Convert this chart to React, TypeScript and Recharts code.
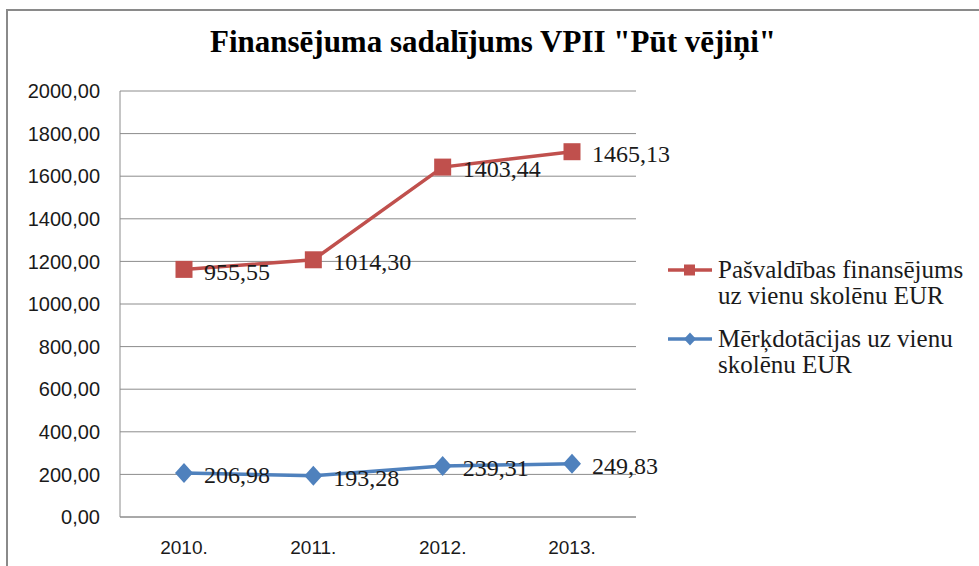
import React from "react";
import { AreaChart, Area, XAxis, YAxis, CartesianGrid } from "recharts";

const years = ["2010.", "2011.", "2012.", "2013."];
const merkdotacijas = [206.98, 193.28, 239.31, 249.83];
const pasvaldibas = [955.55, 1014.3, 1403.44, 1465.13];
const yTicks = [0, 200, 400, 600, 800, 1000, 1200, 1400, 1600, 1800, 2000];

const RED = "#C0504D";
const BLUE = "#4F81BD";
const SERIF = "'Liberation Serif', 'DejaVu Serif', 'Times New Roman', serif";
const SANS = "'Liberation Sans', Arial, sans-serif";

const data = years.map((year, i) => ({
    year,
    mer: merkdotacijas[i],
    pas: pasvaldibas[i],
}));

const fmt = (v: number) => v.toFixed(2).replace(".", ",");

const SquareDot = (props: any) => {
    const { cx, cy, index } = props;
    return (
        <rect
            key={`sq-${index}`}
            x={cx - 8.5}
            y={cy - 8.5}
            width={17}
            height={17}
            fill={RED}
        />
    );
};

const DiamondDot = (props: any) => {
    const { cx, cy, index } = props;
    return (
        <polygon
            key={`dm-${index}`}
            points={`${cx},${cy - 10} ${cx + 9},${cy} ${cx},${cy + 10} ${cx - 9},${cy}`}
            fill={BLUE}
        />
    );
};

const makeLabel = (values: number[]) => (props: any) => {
    const { x, y, index } = props;
    return (
        <text
            key={`lb-${index}`}
            x={x + 20}
            y={y + 2}
            dy="0.35em"
            style={{ fontFamily: SERIF }}
            fontSize={24}
            fill="#1a1a1a"
        >
            {fmt(values[index])}
        </text>
    );
};

export default function App() {
    return (
        <div
            style={{
                position: "absolute",
                left: 0,
                top: 0,
                width: 979,
                height: 566,
                background: "#fff",
                overflow: "hidden",
            }}
        >
            <div
                style={{
                    position: "absolute",
                    left: 6,
                    top: 9,
                    width: 973,
                    height: 557,
                    borderLeft: "2px solid #8a8a8a",
                    borderTop: "2px solid #8a8a8a",
                }}
            />
            <div
                style={{
                    position: "absolute",
                    left: 0,
                    top: 24,
                    width: 986,
                    textAlign: "center",
                    fontFamily: SERIF,
                    fontWeight: "bold",
                    fontSize: 31,
                    color: "#000",
                }}
            >
                Finansējuma sadalījums VPII "Pūt vējiņi"
            </div>

            <AreaChart
                width={979}
                height={566}
                data={data}
                margin={{ top: 91, right: 343, bottom: 19, left: 20 }}
                style={{ position: "absolute", left: 0, top: 0 }}
            >
                <CartesianGrid
                    vertical={false}
                    stroke="#8c8c8c"
                    strokeWidth={1}
                />
                <XAxis
                    dataKey="year"
                    height={30}
                    padding={{ left: 64, right: 64 }}
                    axisLine={{ stroke: "#8c8c8c" }}
                    tickLine={false}
                    tickSize={0}
                    tickMargin={24}
                    tick={{
                        fill: "#1a1a1a",
                        fontSize: 19,
                        fontFamily: SANS,
                    }}
                />
                <YAxis
                    width={100}
                    domain={[0, 2000]}
                    ticks={yTicks}
                    interval={0}
                    tickFormatter={fmt}
                    axisLine={{ stroke: "#8c8c8c" }}
                    tickLine={false}
                    tickSize={0}
                    tickMargin={20}
                    tick={{
                        fill: "#1a1a1a",
                        fontSize: 20,
                        fontFamily: SANS,
                    }}
                />
                <Area
                    type="linear"
                    dataKey="mer"
                    stackId="1"
                    stroke={BLUE}
                    strokeWidth={3.5}
                    fill="none"
                    dot={DiamondDot}
                    activeDot={false}
                    label={makeLabel(merkdotacijas)}
                    isAnimationActive={false}
                />
                <Area
                    type="linear"
                    dataKey="pas"
                    stackId="1"
                    stroke={RED}
                    strokeWidth={3.5}
                    fill="none"
                    dot={SquareDot}
                    activeDot={false}
                    label={makeLabel(pasvaldibas)}
                    isAnimationActive={false}
                />
            </AreaChart>

            <div
                style={{
                    position: "absolute",
                    left: 667,
                    top: 257,
                    width: 312,
                    fontFamily: SERIF,
                    fontSize: 25,
                    lineHeight: "26px",
                    color: "#1a1a1a",
                    whiteSpace: "nowrap",
                }}
            >
                {[
                    { color: RED, name: "Pašvaldības finansējums", name2: "uz vienu skolēnu EUR", shape: "square" },
                    { color: BLUE, name: "Mērķdotācijas uz vienu", name2: "skolēnu EUR", shape: "diamond" },
                ].map((item, i) => (
                    <div key={i} style={{ display: "flex", marginBottom: 17 }}>
                        <svg width={48} height={26} style={{ flex: "none" }}>
                            <line x1={1} y1={13} x2={45} y2={13} stroke={item.color} strokeWidth={3.5} />
                            {item.shape === "square" ? (
                                <rect x={17} y={7.5} width={11} height={11} fill={item.color} />
                            ) : (
                                <polygon points="23,6.5 29,13 23,19.5 17,13" fill={item.color} />
                            )}
                        </svg>
                        <div style={{ marginLeft: 3 }}>
                            {item.name}
                            <br />
                            {item.name2}
                        </div>
                    </div>
                ))}
            </div>
        </div>
    );
}
